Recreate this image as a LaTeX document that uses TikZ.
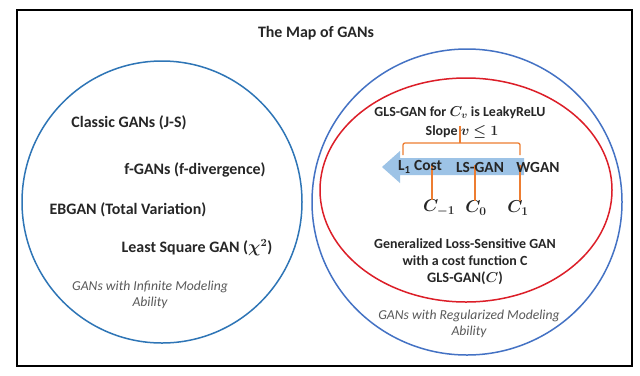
\documentclass[tikz,border=0pt]{standalone}
\usepackage{fontspec}
\setmainfont{Carlito}
\usepackage{amsmath}
\usepackage{bm}
\definecolor{GANblue}{RGB}{46,117,182}
\definecolor{GANnavy}{RGB}{68,114,196}
\definecolor{GANred}{RGB}{220,30,40}
\definecolor{GANorange}{RGB}{237,125,49}
\definecolor{GANarrow}{RGB}{157,195,230}
\definecolor{GANgray}{RGB}{89,89,89}
\definecolor{GANtext}{RGB}{38,38,38}

\begin{document}
\begin{tikzpicture}[x=1bp, y=-1bp,
  lbl/.style={font=\bfseries\fontsize{16}{18}\selectfont, text=GANtext, inner sep=0pt},
  sml/.style={font=\bfseries\fontsize{14}{16.5}\selectfont, text=GANtext, inner sep=0pt},
  big/.style={font=\bfseries\fontsize{15.5}{18}\selectfont, text=GANtext, inner sep=0pt},
  note/.style={font=\itshape\fontsize{13.7}{16.5}\selectfont, text=GANgray, align=center, inner sep=0pt},
  link/.style={GANorange, line width=1.3bp}]
  \useasboundingbox (0,0) rectangle (640,375);
  \fill[white] (0,0) rectangle (640,375);
  %% Frame and title
  \draw[line width=1.3bp] (17,10) rectangle (632,366);
  \node[lbl] (title) at (316,33) {The Map of GANs};
  %% Left circle: infinite modeling ability
  \draw[GANblue, line width=1.5bp] (162,202) ellipse [x radius=140, y radius=141];
  \node[lbl] (classic) at (129,123) {Classic GANs (J-S)};
  \node[lbl] (fgan) at (195,170) {f-GANs (f-divergence)};
  \node[lbl] (ebgan) at (128,210) {EBGAN (Total Variation)};
  \node[lbl] (lsq) at (197,248) {Least Square GAN ($\bm{\chi^2}$)};
  \node[note] (infinite) at (150,295) {GANs with Infinite Modeling\\Ability};
  %% Right circles: regularized modeling ability
  \draw[GANnavy, line width=1.5bp] (467,202) ellipse [x radius=155, y radius=153];
  \draw[GANred, line width=1.5bp] (466,190) ellipse [x radius=146, y radius=112];
  \node[sml] (leaky) at (460,113) {GLS-GAN for $\bm{C_v}$ is LeakyReLU};
  \node[sml] (slope) at (462,132) {Slope $\bm{v \leq 1}$};
  %% Big arrow towards L1 cost
  \fill[GANarrow] (524,158) -- (400,158) -- (400,151) -- (382,167)
    -- (400,183) -- (400,175) -- (524,175) -- cycle;
  \coordinate (tm1) at (432,165);
  \coordinate (t0) at (475,165);
  \coordinate (t1) at (520,165);
  \node[big, font=\bfseries\fontsize{17}{19}\selectfont] (cm1) at (439,208) {$\bm{C_{-1}}$};
  \node[big, font=\bfseries\fontsize{17}{19}\selectfont] (c0) at (476,208) {$\bm{C_{0}}$};
  \node[big, font=\bfseries\fontsize{17}{19}\selectfont] (c1) at (518,208) {$\bm{C_{1}}$};
  \draw[link] (tm1) -- (tm1 |- cm1.north);
  \draw[link] (t0) -- (t0 |- c0.north);
  \draw[link] (t1) -- (t1 |- c1.north);
  \draw[link, rounded corners=2bp] (403,155) -- (403,143) -- (520,143) -- (520,155);
  \draw[link] (460,143) -- (460,126);
  \node[big] (lcost) at (420,167) {L$_{\text{1}}$ Cost};
  \node[big] (lsgan) at (480,167) {LS-GAN};
  \node[big] (wgan) at (538,167) {WGAN};
  \node[sml, align=center] (general) at (465,252) {Generalized Loss-Sensitive GAN\\with a cost function C};
  \node[lbl, font=\bfseries\fontsize{14.5}{17}\selectfont] (glsgan) at (465,278) {GLS-GAN($\bm{C}$)};
  \node[note] (regular) at (469,324) {GANs with Regularized Modeling\\Ability};
\end{tikzpicture}
\end{document}
